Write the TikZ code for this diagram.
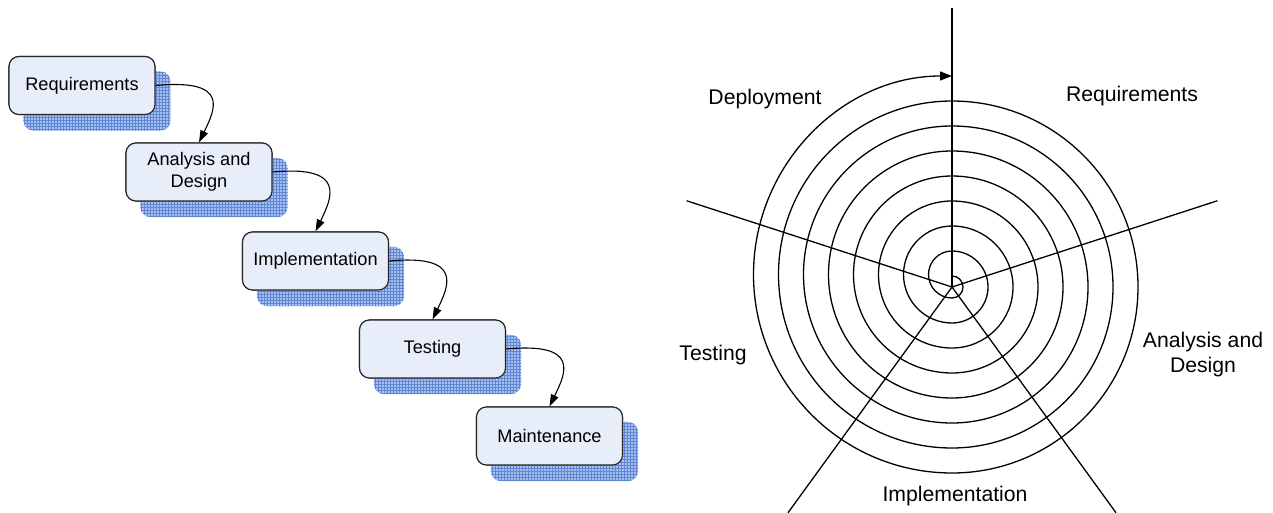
\documentclass[tikz,border=0pt]{standalone}
\usepackage{fontspec}
\setmainfont{Liberation Sans}
\usetikzlibrary{calc,patterns,arrows.meta}
\definecolor{boxfill}{RGB}{231,237,249}
\definecolor{shadowfill}{RGB}{168,192,238}
\definecolor{shadowgrid}{RGB}{95,135,212}
\tikzset{
  phase/.style={draw=black!85, line width=1.1pt, fill=boxfill, rounded corners=10pt,
    minimum width=146pt, minimum height=58pt, inner sep=0pt, align=center,
    font=\fontsize{18.2}{22}\selectfont},
  shadowbase/.style={fill=shadowfill, rounded corners=10pt},
  shadowpat/.style={pattern=grid, pattern color=shadowgrid, rounded corners=10pt},
  flow/.style={line width=1.1pt, -{Triangle[length=12pt,width=8pt]}},
  spoke/.style={line width=1.3pt},
  spiral/.style={line width=1.3pt},
  lbl/.style={font=\fontsize{21.2}{25}\selectfont, align=center, inner sep=0pt}
}
\begin{document}
\begin{tikzpicture}[x=1pt,y=1pt]
\useasboundingbox (0,-513) rectangle (1273,0);
% ---------- waterfall ----------
\coordinate (sh) at (15,-15.5);
\node[phase] (req)  at (82,-85.5) {Requirements};
\node[phase] (ad)   at (199,-172) {Analysis and\\Design};
\node[phase] (impl) at (315.5,-261) {Implementation};
\node[phase] (test) at (432.5,-349) {Testing};
\node[phase] (mnt)  at (549.5,-436) {Maintenance};
\foreach \n in {req,ad,impl,test,mnt}{
  \path[shadowbase] ($(\n.south west)+(sh)$) rectangle ($(\n.north east)+(sh)$);
  \path[shadowpat] ($(\n.south west)+(sh)$) rectangle ($(\n.north east)+(sh)$);
}
% boxes drawn again above their shadows
\node[phase] at (req) {Requirements};
\node[phase] at (ad) {Analysis and\\Design};
\node[phase] at (impl) {Implementation};
\node[phase] at (test) {Testing};
\node[phase] at (mnt) {Maintenance};
\foreach \a/\b in {req/ad,ad/impl,impl/test,test/mnt}{
  \draw[flow] (\a.east) .. controls ($(\a.east)+(75,7)$) and ($(\b.north)+(16,33)$) .. (\b.north);
}
% ---------- spiral ----------
\coordinate (C) at (952,-287);
\coordinate (sN) at ($(C)+(90:279)$);
\coordinate (sR) at ($(C)+(18:279)$);
\coordinate (sL) at ($(C)+(162:279)$);
\coordinate (sBR) at ($(C)+(-54:279)$);
\coordinate (sBL) at ($(C)+(-126:279)$);
\foreach \e in {sN,sR,sL,sBR,sBL}{ \draw[spoke] (C) -- (\e); }
\coordinate (st) at ($(C)+(0,11)$);
\draw[spiral, -{Triangle[length=12pt,width=9pt]}] (st)
  \foreach \k in {0,...,7}{
    arc[start angle=90,end angle=-90,radius={11+25*\k}]
    arc[start angle=270,end angle=90,radius={23.5+25*\k}]
  };
\node[lbl] (lreq) at (1132,-96) {Requirements};
\node[lbl] (ldep) at (765,-99) {Deployment};
\node[lbl] (lad) at (1203,-355) {Analysis and\\Design};
\node[lbl] (ltest) at (713,-355) {Testing};
\node[lbl] (limpl) at (955,-496) {Implementation};
\end{tikzpicture}
\end{document}
